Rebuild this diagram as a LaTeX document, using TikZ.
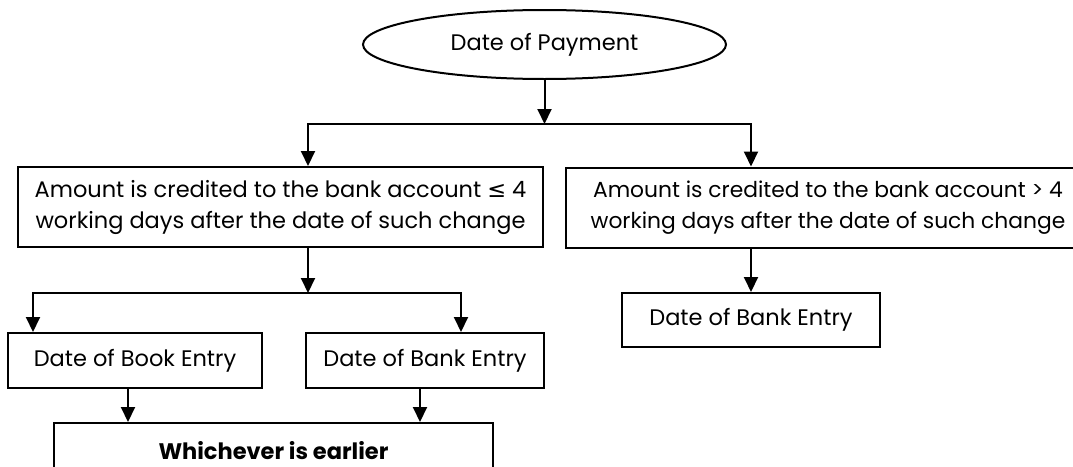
\documentclass[tikz,border=0pt]{standalone}
\usepackage{fontspec}
\setmainfont{Poppins}
\newfontfamily\symfont{DejaVu Sans}
\usepackage{tikz}
\usetikzlibrary{positioning, arrows.meta, shapes.geometric}

\begin{document}
\begin{tikzpicture}[
    x=1pt, y=-1pt,
    >={Triangle[length=15pt, width=14pt]},
    line width=2pt,
    every node/.style={
        font=\fontsize{22.5}{31}\selectfont,
        align=center,
        inner sep=0pt
    },
    oval/.style={
        draw,
        ellipse,
        minimum width=363pt,
        minimum height=69pt
    },
    widebox/.style={
        draw,
        rectangle,
        minimum width=525pt,
        minimum height=80pt
    },
    datebox/.style={
        draw,
        rectangle,
        minimum height=55pt
    }
]
\useasboundingbox (0,0) rectangle (1073,466);

% nodes
\node[oval] (pay) at (544.5,44.5) {Date of Payment};
\node[widebox] (less) at (280.5,207) {Amount is credited to the bank account {\symfont ≤} 4\\working days after the date of such change};
\node[widebox, font=\fontsize{21.8}{31}\selectfont] (more) at (828,207.5) {Amount is credited to the bank account > 4\\working days after the date of such change};
\node[datebox, minimum width=254pt] (book) at (135,360.5) {Date of Book Entry};
\node[datebox, minimum width=238pt] (bankL) at (425,360.5) {Date of Bank Entry};
\node[datebox, minimum width=258pt, minimum height=54pt] (bankR) at (751,320) {Date of Bank Entry};
\node[datebox, minimum width=439pt] (earlier) at (273.5,450.5) {\textbf{Whichever is earlier}};
\coordinate (top) at (544.5,124);
\coordinate (mid) at (308,293);

% connectors
\draw[->] (pay) -- (top);
\draw[->] (top) -| ([xshift=27.5pt]less.north);
\draw[->] (top) -| ([xshift=-77pt]more.north);
\draw[->] (mid |- less.south) -- (mid);
\draw[->] (mid) -| ([xshift=-102pt]book.north);
\draw[->] (mid) -| ([xshift=36pt]bankL.north);
\draw[->] (bankR.north |- more.south) -- (bankR);
\draw[->] ([xshift=-7pt]book.south) -- ([xshift=-7pt]book.south |- earlier.north);
\draw[->] ([xshift=-5pt]bankL.south) -- ([xshift=-5pt]bankL.south |- earlier.north);
\end{tikzpicture}
\end{document}
